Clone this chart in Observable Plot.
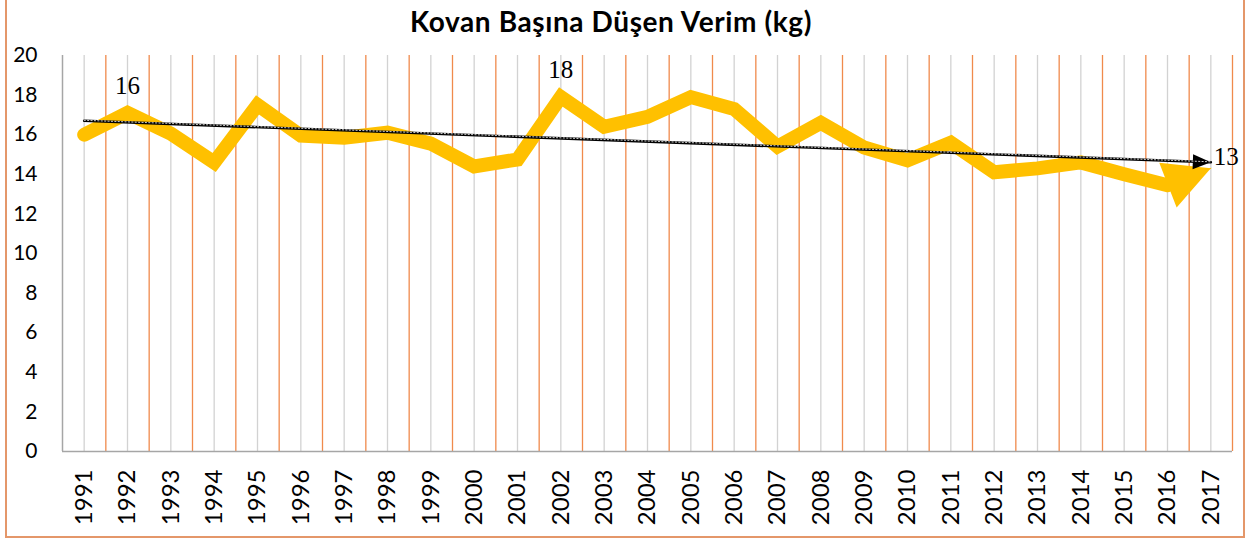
<!DOCTYPE html>
<html><head><meta charset="utf-8">
<script src="https://cdn.jsdelivr.net/npm/d3@7"></script>
<script src="https://cdn.jsdelivr.net/npm/@observablehq/plot@0.6"></script>
<style>
body{margin:0;background:#fff;}
#wrap{position:relative;width:1254px;height:538px;overflow:hidden;background:#fff;}
#frame{position:absolute;left:5px;top:-3px;width:1240px;height:541px;border:2px solid #E4976A;box-sizing:border-box;pointer-events:none;}
#title{position:absolute;top:4px;left:0;width:1222px;text-align:center;font-family:Lato,sans-serif;font-weight:bold;font-size:28px;letter-spacing:0.6px;color:#000;}
#chart{position:absolute;left:0;top:0;}
</style>
</head><body>
<div id="wrap"><div id="chart"></div><div id="title">Kovan Başına Düşen Verim (kg)</div><div id="frame"></div></div>
<script>
const years = [1991,1992,1993,1994,1995,1996,1997,1998,1999,2000,2001,2002,2003,2004,2005,2006,2007,2008,2009,2010,2011,2012,2013,2014,2015,2016,2017];
const yields = [16.0,17.1,16.05,14.6,17.5,15.95,15.85,16.1,15.55,14.4,14.75,17.9,16.4,16.9,17.9,17.3,15.4,16.6,15.35,14.7,15.6,14.1,14.3,14.6,14.0,13.45,14.3];
const yTicks = [0,2,4,6,8,10,12,14,16,18,20];
const peakLabelYears = [1992, 2002];
const peakLabelTexts = ["16", "18"];
const endLabelYear = 2017;
const endLabelText = "13";

const data = years.map((year, i) => ({year, value: yields[i]}));
const bounds = years.map(y => y + 0.5);

// least-squares trend
const mx = d3.mean(years), my = d3.mean(yields);
const slope = d3.sum(years, (x, i) => (x - mx) * (yields[i] - my)) / d3.sum(years, x => (x - mx) ** 2);
const trend = [years[0], years[years.length - 1]].map(x => ({year: x, value: my + slope * (x - mx)}));

function triMarker(fill, len, wid) {
  return (color, context) => {
    const doc = (context && context.document) || document;
    const ns = "http://www.w3.org/2000/svg";
    const m = doc.createElementNS(ns, "marker");
    m.setAttribute("viewBox", `${-len} ${-wid / 2} ${len} ${wid}`);
    m.setAttribute("markerWidth", len);
    m.setAttribute("markerHeight", wid);
    m.setAttribute("refX", 0);
    m.setAttribute("refY", 0);
    m.setAttribute("markerUnits", "userSpaceOnUse");
    m.setAttribute("orient", "auto");
    m.setAttribute("overflow", "visible");
    const p = doc.createElementNS(ns, "path");
    p.setAttribute("d", `M${-len},${-wid / 2}L0,0L${-len},${wid / 2}Z`);
    p.setAttribute("fill", fill);
    p.setAttribute("stroke", "none");
    m.appendChild(p);
    return m;
  };
}

const main = data.slice(0, data.length - 1);
const tail = data.slice(data.length - 2);
const valueOf = y => data.find(d => d.year === y).value;

const chart = Plot.plot({
  width: 1254,
  height: 538,
  marginTop: 55,
  marginBottom: 87,
  marginLeft: 62,
  marginRight: 22,
  style: {fontFamily: "Lato, sans-serif", fontSize: "21px", color: "#000", background: "transparent"},
  x: {type: "linear", domain: [1990.5, 2017.5], label: null},
  y: {domain: [0, 20], ticks: yTicks, tickSize: 0, tickPadding: 25, label: null},
  marks: [
    Plot.ruleX(years, {x: d => d, y1: 0, y2: 20, stroke: "#D2D2D2", strokeWidth: 1.3}),
    Plot.ruleX(bounds, {x: d => d, y1: 0, y2: 20, stroke: "#F08A4C", strokeWidth: 1.3}),
    Plot.ruleX([1990.5], {y1: 0, y2: 20, stroke: "#A6A6A6", strokeWidth: 1.5}),
    Plot.ruleY([0], {x1: 1990.5, x2: 2017.5, stroke: "#A6A6A6", strokeWidth: 1.5}),
    Plot.line(main, {x: "year", y: "value", stroke: "#FFC000", strokeWidth: 14, strokeLinejoin: "miter", strokeLinecap: "round", strokeMiterlimit: 10}),
    Plot.line(tail, {x: "year", y: "value", stroke: "#FFC000", strokeWidth: 1, markerEnd: triMarker("#FFC000", 46, 48)}),
    Plot.line(trend, {x: "year", y: "value", stroke: "#000", strokeWidth: 2.6, markerEnd: triMarker("#000", 18, 15)}),
    Plot.line(trend, {x: "year", y: "value", stroke: "#fff", strokeWidth: 0.8, strokeDasharray: "1.2 2.2", dy: -0.5}),
    Plot.axisX({ticks: years, tickFormat: d => String(d), tickRotate: -90, tickSize: 0, tickPadding: 18, fontSize: 24, label: null}),
    Plot.text(peakLabelYears, {x: d => d, y: d => valueOf(d), text: (d, i) => peakLabelTexts[i], dy: -27, fontFamily: "Liberation Serif, serif", fontSize: 25, fill: "#000"}),
    Plot.text([endLabelYear], {x: d => d, y: d => valueOf(d), text: () => endLabelText, dx: 3, dy: -11, textAnchor: "start", fontFamily: "Liberation Serif, serif", fontSize: 25, fill: "#000"})
  ]
});
document.getElementById("chart").appendChild(chart);
</script>
</body></html>
